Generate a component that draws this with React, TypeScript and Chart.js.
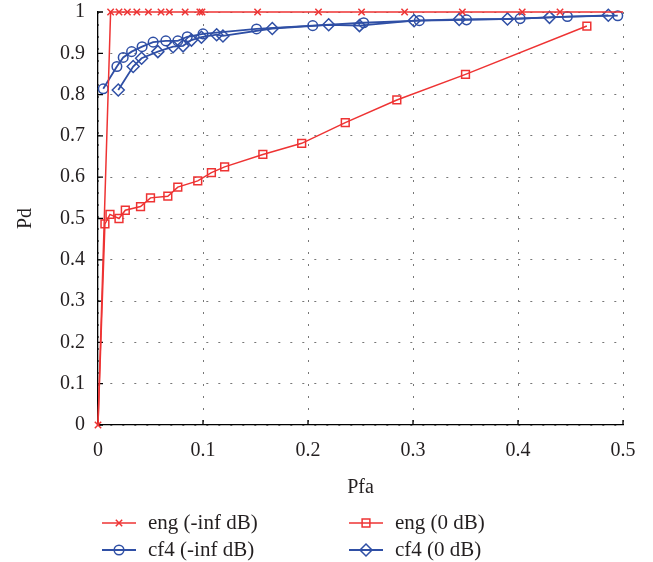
import React, { useEffect, useRef } from 'react';
import { Chart, registerables } from 'chart.js';
import { drawPoint } from 'chart.js/helpers';

Chart.register(...registerables);

const RED = '#EE3333';
const BLUE = '#2F4FA5';
const TEXT = '#231F20';
const FONT_FAMILY = '"Liberation Serif", "Times New Roman", serif';

const xTickValues = [0, 0.1, 0.2, 0.3, 0.4, 0.5];
const xTickLabels = ['0', '0.1', '0.2', '0.3', '0.4', '0.5'];
const yTickValues = [0, 0.1, 0.2, 0.3, 0.4, 0.5, 0.6, 0.7, 0.8, 0.9, 1];
const yTickLabels = ['0', '0.1', '0.2', '0.3', '0.4', '0.5', '0.6', '0.7', '0.8', '0.9', '1'];

// eng (-inf dB)
const engInfX = [0, 0.012, 0.02, 0.028, 0.037, 0.048, 0.06, 0.068, 0.083, 0.097, 0.099, 0.152, 0.21, 0.251, 0.292, 0.347, 0.404, 0.44, 0.5];
const engInfY = [0, 1, 1, 1, 1, 1, 1, 1, 1, 1, 1, 1, 1, 1, 1, 1, 1, 1, 1];

// eng (0 dB)
const engZeroX = [0, 0.0066, 0.0114, 0.02, 0.026, 0.0405, 0.05, 0.0665, 0.076, 0.095, 0.108, 0.1206, 0.157, 0.194, 0.2355, 0.2846, 0.35, 0.4656];
const engZeroY = [0, 0.487, 0.51, 0.5, 0.52, 0.529, 0.55, 0.554, 0.576, 0.591, 0.611, 0.625, 0.655, 0.682, 0.732, 0.787, 0.849, 0.966];

// cf4 (-inf dB)
const cf4InfX = [0.005, 0.018, 0.024, 0.032, 0.042, 0.0525, 0.0646, 0.076, 0.085, 0.1, 0.151, 0.2045, 0.253, 0.306, 0.351, 0.402, 0.447, 0.495];
const cf4InfY = [0.814, 0.868, 0.89, 0.904, 0.916, 0.927, 0.93, 0.93, 0.94, 0.947, 0.959, 0.967, 0.974, 0.979, 0.981, 0.984, 0.989, 0.991];

// cf4 (0 dB)
const cf4ZeroX = [0.0193, 0.0335, 0.0415, 0.057, 0.0715, 0.081, 0.089, 0.0985, 0.113, 0.119, 0.166, 0.2197, 0.249, 0.301, 0.344, 0.39, 0.43, 0.486];
const cf4ZeroY = [0.811, 0.868, 0.888, 0.904, 0.916, 0.918, 0.932, 0.939, 0.945, 0.942, 0.96, 0.969, 0.967, 0.979, 0.982, 0.983, 0.987, 0.992];

const toPoints = (xs: number[], ys: number[]) => xs.map((x, i) => ({ x, y: ys[i] }));

type LegendItem = { label: string; color: string; pointStyle: any; radius: number; lineWidth: number; x: number; y: number };

const legendItems: LegendItem[] = [
  { label: 'eng (-inf dB)', color: RED, pointStyle: 'crossRot', radius: 4.5, lineWidth: 1.5, x: 102, y: 523 },
  { label: 'eng (0 dB)', color: RED, pointStyle: 'rect', radius: 5.5, lineWidth: 1.5, x: 349, y: 523 },
  { label: 'cf4 (-inf dB)', color: BLUE, pointStyle: 'circle', radius: 4.8, lineWidth: 1.8, x: 102, y: 550 },
  { label: 'cf4 (0 dB)', color: BLUE, pointStyle: 'rectRot', radius: 6, lineWidth: 1.8, x: 349, y: 550 },
];

const legendPlugin = {
  id: 'customLegend',
  afterDraw(chart: any) {
    const ctx = chart.ctx as CanvasRenderingContext2D;
    ctx.save();
    for (const it of legendItems) {
      ctx.strokeStyle = it.color;
      ctx.lineWidth = it.lineWidth;
      ctx.beginPath();
      ctx.moveTo(it.x, it.y);
      ctx.lineTo(it.x + 34, it.y);
      ctx.stroke();
      ctx.fillStyle = 'rgba(0,0,0,0)';
      ctx.lineWidth = 1.5;
      drawPoint(ctx, { pointStyle: it.pointStyle, radius: it.radius, rotation: 0, borderWidth: 1.5 } as any, it.x + 17, it.y);
      ctx.fillStyle = TEXT;
      ctx.font = `21px ${FONT_FAMILY}`;
      ctx.textAlign = 'left';
      ctx.textBaseline = 'middle';
      ctx.fillText(it.label, it.x + 46, it.y);
    }
    ctx.restore();
  },
};

const innerTicksPlugin = {
  id: 'innerTicks',
  beforeDatasetsDraw(chart: any) {
    const ctx = chart.ctx as CanvasRenderingContext2D;
    const { x, y } = chart.scales;
    const area = chart.chartArea;
    ctx.save();
    ctx.strokeStyle = '#000';
    ctx.lineWidth = 1.3;
    ctx.beginPath();
    for (const v of xTickValues) {
      const px = x.getPixelForValue(v);
      ctx.moveTo(px, area.bottom);
      ctx.lineTo(px, area.bottom - 5);
    }
    for (const v of yTickValues) {
      const py = y.getPixelForValue(v);
      ctx.moveTo(area.left, py);
      ctx.lineTo(area.left + 5, py);
    }
    ctx.stroke();
    ctx.restore();
  },
};

export default function App() {
  const ref = useRef<HTMLCanvasElement>(null);

  useEffect(() => {
    document.body.style.margin = '0';
    const font = { family: FONT_FAMILY, size: 20 };
    const chart = new Chart(ref.current!, {
      type: 'line',
      data: {
        datasets: [
          {
            label: 'eng (-inf dB)',
            data: toPoints(engInfX, engInfY),
            borderColor: RED,
            backgroundColor: 'rgba(0,0,0,0)',
            borderWidth: 1.5,
            pointStyle: 'crossRot',
            pointRadius: engInfX.map((_, i) => (i === engInfX.length - 1 ? 0 : 4.5)),
            pointBorderWidth: 1.5,
            pointBorderColor: RED,
            tension: 0,
            clip: false,
          },
          {
            label: 'eng (0 dB)',
            data: toPoints(engZeroX, engZeroY),
            borderColor: RED,
            backgroundColor: 'rgba(0,0,0,0)',
            borderWidth: 1.5,
            pointStyle: 'rect',
            pointRadius: engZeroX.map((_, i) => (i === 0 ? 0 : 5.5)),
            pointBorderWidth: 1.5,
            pointBorderColor: RED,
            tension: 0,
            clip: false,
          },
          {
            label: 'cf4 (-inf dB)',
            data: toPoints(cf4InfX, cf4InfY),
            borderColor: BLUE,
            backgroundColor: 'rgba(0,0,0,0)',
            borderWidth: 1.8,
            pointStyle: 'circle',
            pointRadius: 4.8,
            pointBorderWidth: 1.5,
            pointBorderColor: BLUE,
            tension: 0,
            clip: false,
          },
          {
            label: 'cf4 (0 dB)',
            data: toPoints(cf4ZeroX, cf4ZeroY),
            borderColor: BLUE,
            backgroundColor: 'rgba(0,0,0,0)',
            borderWidth: 1.8,
            pointStyle: 'rectRot',
            pointRadius: 6,
            pointBorderWidth: 1.5,
            pointBorderColor: BLUE,
            tension: 0,
            clip: false,
          },
        ],
      },
      options: {
        responsive: false,
        animation: false,
        events: [],
        layout: { padding: { left: 0, top: 12, right: 30, bottom: 57 }, autoPadding: false },
        plugins: { legend: { display: false }, tooltip: { enabled: false } },
        scales: {
          x: {
            type: 'linear',
            min: 0,
            max: 0.5,
            afterBuildTicks: (s: any) => {
              s.ticks = xTickValues.map((v) => ({ value: v }));
            },
            afterFit: (s: any) => {
              s.height = 80;
              s.paddingLeft = 0;
              s.paddingRight = 0;
            },
            ticks: {
              callback: (_v: any, i: number) => xTickLabels[i],
              font,
              color: TEXT,
              padding: 14,
              maxRotation: 0,
              autoSkip: false,
            },
            grid: { color: '#777', lineWidth: 1, drawTicks: false },
            border: { display: true, color: '#000', width: 1.3, dash: [2, 10] },
            title: { display: true, text: 'Pfa', font, color: TEXT, padding: { top: 0, bottom: 5 } },
          },
          y: {
            type: 'linear',
            min: 0,
            max: 1,
            afterBuildTicks: (s: any) => {
              s.ticks = yTickValues.map((v) => ({ value: v }));
            },
            afterFit: (s: any) => {
              s.width = 98;
              s.paddingTop = 0;
              s.paddingBottom = 0;
            },
            ticks: {
              callback: (_v: any, i: number) => yTickLabels[i],
              font,
              color: TEXT,
              padding: 13,
              autoSkip: false,
            },
            grid: { color: '#777', lineWidth: 1, drawTicks: false },
            border: { display: true, color: '#000', width: 1.3, dash: [2, 10] },
            title: { display: true, text: 'Pd', font, color: TEXT, padding: { top: 14, bottom: 0 } },
          },
        },
      },
      plugins: [innerTicksPlugin, legendPlugin],
    } as any);
    return () => chart.destroy();
  }, []);

  return (
    <div style={{ width: 653, height: 562, position: 'relative' }}>
      <canvas ref={ref} width={653} height={562} style={{ display: 'block', width: 653, height: 562 }} />
    </div>
  );
}
